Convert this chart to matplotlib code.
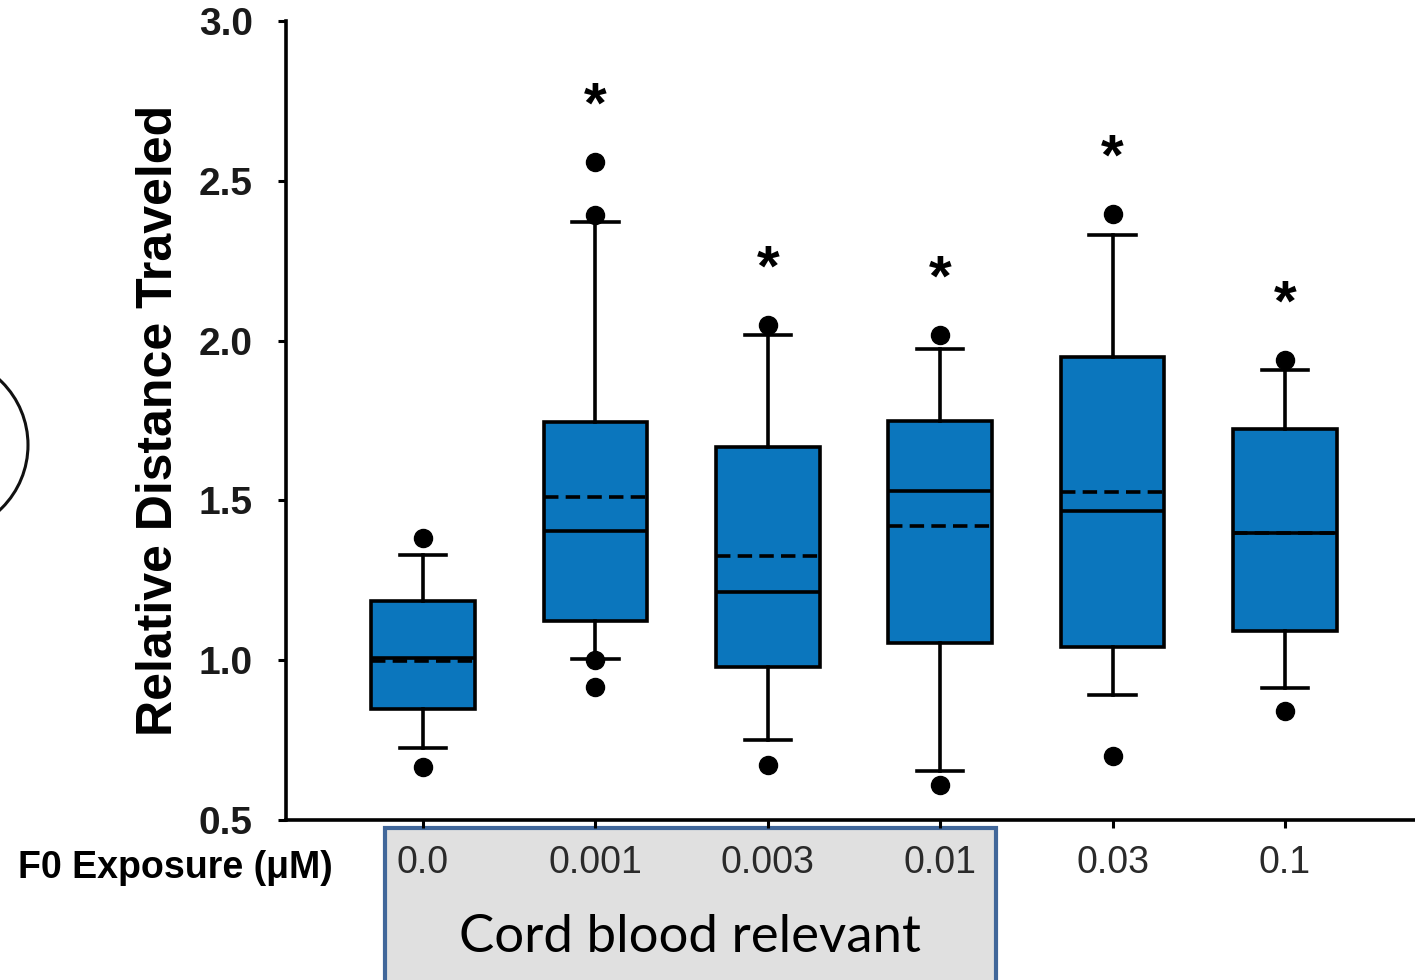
import matplotlib.pyplot as plt
from matplotlib.patches import Circle, Rectangle

# data
doses = ["0.0", "0.001", "0.003", "0.01", "0.03", "0.1"]
q1 = [0.847, 1.123, 0.979, 1.054, 1.041, 1.091]
q3 = [1.185, 1.745, 1.667, 1.748, 1.949, 1.723]
medians = [1.007, 1.404, 1.213, 1.529, 1.467, 1.398]
means = [0.997, 1.511, 1.326, 1.420, 1.526, 1.398]
whisker_lo = [0.725, 1.004, 0.750, 0.653, 0.891, 0.913]
whisker_hi = [1.329, 2.371, 2.018, 1.974, 2.330, 1.908]
outliers = [[1.382, 0.666], [2.559, 2.393, 1.000, 0.916], [2.049, 0.672],
            [2.018, 0.609], [2.396, 0.700], [1.939, 0.841]]
significant = [False, True, True, True, True, True]

plt.rcParams['font.family'] = ['Liberation Sans', 'DejaVu Sans']

fig = plt.figure(figsize=(14.15, 9.8), dpi=100)
ax = fig.add_axes([0.2021, 0.1633, 0.7979, 0.8153])

stats = []
for i in range(len(doses)):
    stats.append(dict(med=medians[i], q1=q1[i], q3=q3[i], mean=means[i],
                      whislo=whisker_lo[i], whishi=whisker_hi[i],
                      fliers=outliers[i], label=doses[i]))

lw = 2.6
ax.bxp(stats, positions=range(len(doses)), widths=0.6, capwidths=0.27,
       patch_artist=True, showmeans=True, meanline=True,
       boxprops=dict(facecolor='#0b76bd', edgecolor='black', linewidth=lw),
       medianprops=dict(color='black', linewidth=lw),
       meanprops=dict(color='black', linewidth=lw, linestyle=(0, (4, 2))),
       whiskerprops=dict(color='black', linewidth=lw),
       capprops=dict(color='black', linewidth=lw),
       flierprops=dict(marker='o', markerfacecolor='black',
                       markeredgecolor='black', markersize=13))

# significance stars
for i, sig in enumerate(significant):
    if sig:
        ax.text(i, max(outliers[i]) + 0.17, '*', ha='center', va='center',
                fontsize=42, fontweight='bold')

ax.set_xlim(-0.795, 5.754)
ax.set_ylim(0.5, 3.0)
ax.set_yticks([0.5, 1.0, 1.5, 2.0, 2.5, 3.0])
ax.set_yticklabels(['0.5', '1.0', '1.5', '2.0', '2.5', '3.0'],
                   fontsize=28, fontweight='bold', color='#1a1a1a')
ax.set_xticks(range(len(doses)))
ax.set_xticklabels(doses, fontsize=27, color='#2a2a2a')
ax.tick_params(axis='both', width=2.2, length=6)
ax.tick_params(axis='y', pad=18)
ax.tick_params(axis='x', pad=12)
ax.spines['top'].set_visible(False)
ax.spines['right'].set_visible(False)
ax.spines['left'].set_linewidth(2.6)
ax.spines['bottom'].set_linewidth(2.6)
ax.set_ylabel('Relative Distance Traveled', fontsize=36, fontweight='bold',
              labelpad=12)

# label and shaded group box under the axis
fig.text(175 / 1415, 1 - 868 / 980, 'F0 Exposure (\u03bcM)', fontsize=27,
         fontweight='bold', ha='center', va='center')
fig.patches.append(Rectangle((385 / 1415, -0.01), 611 / 1415, 152 / 980 + 0.01,
                             transform=fig.transFigure, facecolor='#e0e0e0',
                             edgecolor='#41679a', linewidth=3, zorder=-1))
fig.text(690 / 1415, 1 - 937 / 980, 'Cord blood relevant', fontsize=38,
         family=['Lato', 'DejaVu Sans'], ha='center', va='center')

# partial circle at the left edge
fig.patches.append(Circle((-61, 980 - 445), 89, transform=None, fill=False,
                          edgecolor='#111111', linewidth=2.2))

plt.savefig('out.png', dpi=100)
